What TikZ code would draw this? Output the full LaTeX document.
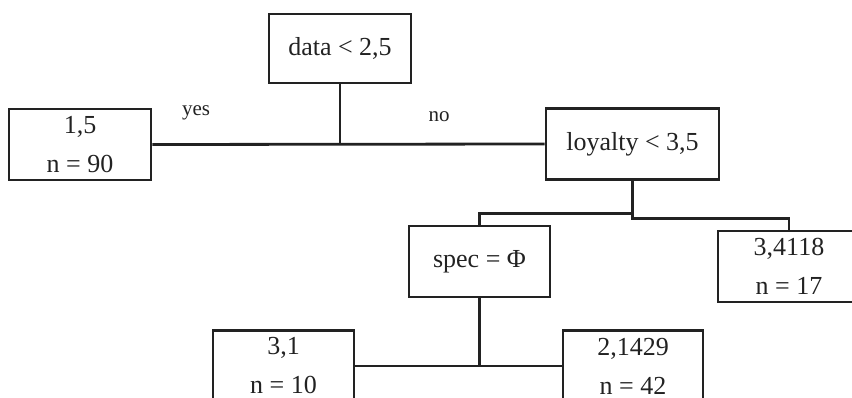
\documentclass[tikz,border=0pt]{standalone}
\usepackage{fontspec}
\setmainfont{Liberation Serif}
\definecolor{inkline}{HTML}{222222}
\begin{document}
\begin{tikzpicture}[x=1pt,y=-1pt,
  treebox/.style={draw=inkline, line width=2.8pt, rectangle, inner sep=0pt,
    minimum height=71pt, align=center, text=inkline, font=\fontsize{26}{39}\selectfont},
  branch/.style={draw=inkline, line width=2.8pt},
  edgelabel/.style={inner sep=0pt, text=inkline, font=\fontsize{21}{24}\selectfont}]
\useasboundingbox (0,0) rectangle (852,398);
\clip (0,0) rectangle (852,398);
% split nodes and leaves
\node[treebox, minimum width=142pt, minimum height=69pt] (root) at (340,48.5) {data < 2,5};
\node[treebox, minimum width=142pt] (leafA) at (80,144.5) {1,5\\n = 90};
\node[treebox, minimum width=173pt] (loyal) at (632.5,144) {loyalty < 3,5};
\node[treebox, minimum width=141pt] (spec) at (479.5,261.5) {spec = Φ};
\node[treebox, minimum width=142pt] (leafB) at (789,266.5) {3,4118\\n = 17};
\node[treebox, minimum width=141pt] (leafC) at (283.5,366) {3,1\\n = 10};
\node[treebox, minimum width=140pt] (leafD) at (633,366) {2,1429\\n = 42};
% branch labels
\node[edgelabel] (yes) at (196,113) {yes};
\node[edgelabel] (no) at (439,117) {no};
% connectors
\coordinate (rootJ) at (root.south |- leafA.east);
\draw[branch] (root.south) -- (rootJ);
\draw[branch] (leafA.east) -- (loyal.west);
\coordinate (loyalL) at ([yshift=-33pt]loyal.south);
\coordinate (loyalR) at ([yshift=-38pt]loyal.south);
\draw[branch] (loyal.south) -- (loyalR) -| (leafB.north);
\draw[branch] (loyalL) -| (spec.north);
\coordinate (specJ) at (spec.south |- leafC.east);
\draw[branch] (spec.south) -- (specJ);
\draw[branch] (leafC.east) -- (leafD.west);
\end{tikzpicture}
\end{document}
